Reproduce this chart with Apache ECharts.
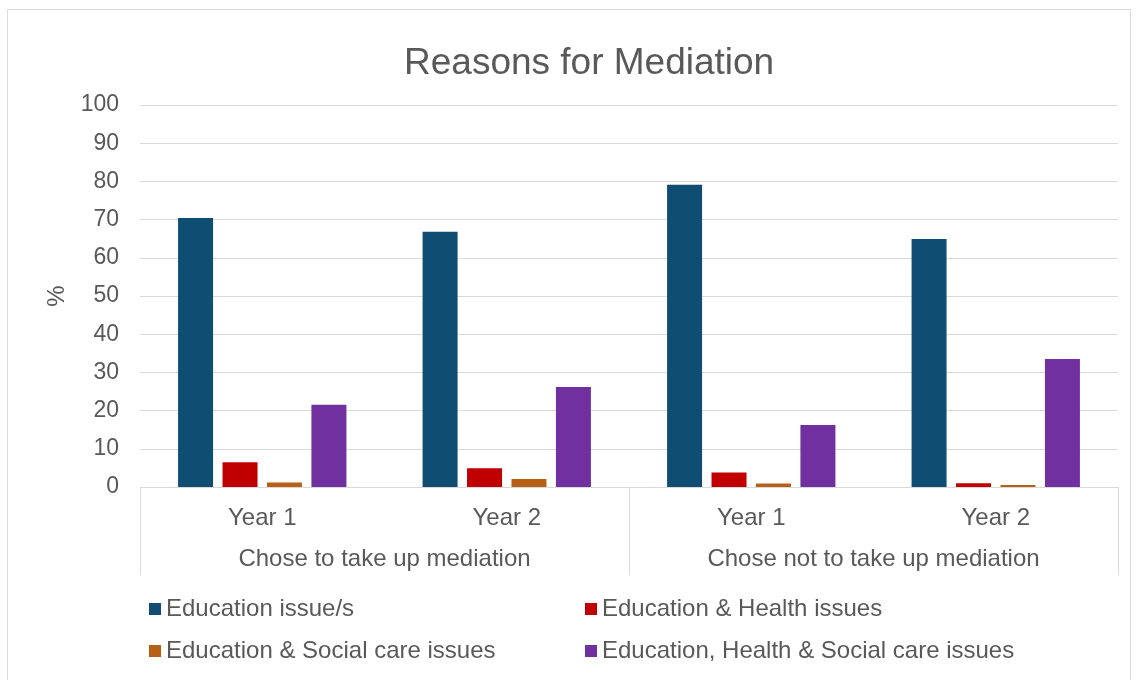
<!DOCTYPE html>
<html>
<head>
<meta charset="utf-8">
<script src="https://cdn.jsdelivr.net/npm/echarts@6/dist/echarts.min.js"></script>
<style>html,body{margin:0;padding:0;background:#fff}#c{width:1138px;height:680px}</style>
</head>
<body>
<div id="c"></div>
<script>
const categories = ['Year 1', 'Year 2', 'Year 1', 'Year 2'];
const groups = ['Chose to take up mediation', 'Chose not to take up mediation'];
const seriesNames = ['Education issue/s', 'Education & Health issues', 'Education & Social care issues', 'Education, Health & Social care issues'];
const educationOnly = [70.4, 66.8, 79.1, 64.9];
const educationHealth = [6.5, 4.9, 3.8, 1.0];
const educationSocial = [1.2, 2.1, 0.9, 0.5];
const educationHealthSocial = [21.5, 26.2, 16.2, 33.5];
const colors = ['#0f4d73', '#c00000', '#b85f17', '#7030a0'];

const FONT = '"Liberation Sans", Arial, sans-serif';
const TXT = '#595959';
const values = [educationOnly, educationHealth, educationSocial, educationHealthSocial];

const chart = echarts.init(document.getElementById('c'));
const legendPos = [[144, 592], [580, 592], [144, 634], [580, 634]];
chart.setOption({
  animation: false,
  textStyle: { fontFamily: FONT },
  title: {
    text: 'Reasons for Mediation', left: 399, top: 40,
    textStyle: { fontFamily: FONT, fontSize: 37, fontWeight: 'normal', color: TXT }
  },
  graphic: [{
    type: 'rect', shape: { x: 7.5, y: 9.5, width: 1123, height: 700 },
    style: { fill: null, stroke: '#d9d9d9', lineWidth: 1 }, z: -1
  }],
  legend: seriesNames.map((n, i) => ({
    data: [n], left: legendPos[i][0], top: legendPos[i][1],
    itemWidth: 12, itemHeight: 12, icon: 'rect', itemGap: 4,
    textStyle: { fontFamily: FONT, fontSize: 24, color: TXT, padding: [0, 0, 0, 0] }
  })),
  grid: { left: 140, right: 20, top: 105, bottom: 193, containLabel: false },
  xAxis: [{
    type: 'category', data: categories, position: 'bottom',
    axisLine: { lineStyle: { color: '#d9d9d9', width: 1 } },
    axisTick: { show: false },
    axisLabel: { fontFamily: FONT, fontSize: 24, color: TXT, margin: 19 }
  }, {
    type: 'category', data: groups, position: 'bottom',
    axisLine: { show: false },
    axisTick: { show: true, length: 88, lineStyle: { color: '#d9d9d9' } },
    axisLabel: { fontFamily: FONT, fontSize: 24, color: TXT, margin: 60 }
  }],
  yAxis: {
    type: 'value', min: 0, max: 100, interval: 10,
    name: '%', nameLocation: 'middle', nameGap: 70, nameRotate: 90,
    nameTextStyle: { fontFamily: FONT, fontSize: 24, color: TXT },
    axisLine: { show: false }, axisTick: { show: false },
    axisLabel: { fontFamily: FONT, fontSize: 23, color: TXT, margin: 21 },
    splitLine: { lineStyle: { color: '#d9d9d9', width: 1 } }
  },
  series: seriesNames.map((n, i) => ({
    name: n, type: 'bar', xAxisIndex: 0, data: values[i],
    barWidth: 35, barGap: '27%',
    itemStyle: { color: colors[i] }
  }))
});
</script>
</body>
</html>
